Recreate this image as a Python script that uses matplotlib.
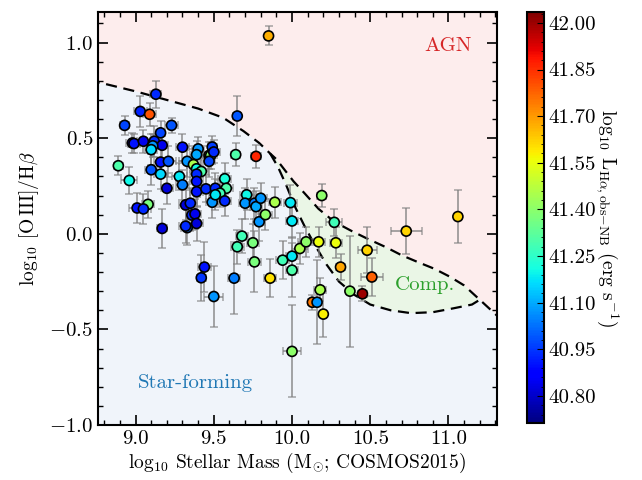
import numpy as np
import matplotlib
matplotlib.use("Agg")
import matplotlib.pyplot as plt
from matplotlib.ticker import MultipleLocator, FormatStrFormatter

plt.rcParams['font.family'] = 'serif'
plt.rcParams['font.serif'] = ['cmr10']
plt.rcParams['mathtext.fontset'] = 'cm'
plt.rcParams['axes.formatter.use_mathtext'] = True

# stellar mass, [OIII]/Hb and Halpha luminosity of each source
mass = [9.13, 9.03, 9.09, 8.93, 9.23, 9.16, 8.98, 8.99, 9.05, 9.12,
        9.17, 9.11, 9.10, 9.30, 9.40, 9.49, 9.39, 9.47, 9.48, 9.50,
        8.89, 9.16, 9.21, 9.10, 9.16, 8.96, 9.33, 9.37, 9.39, 9.42,
        9.39, 9.28, 9.30, 9.39, 9.20, 9.39, 9.45, 9.51, 9.08, 9.01,
        9.05, 9.32, 9.35, 9.49, 9.57, 9.58, 9.54, 9.51, 9.57, 9.71,
        9.70, 9.76, 9.77, 9.80, 9.89, 9.99, 9.64, 9.77, 9.65, 9.47,
        9.85, 9.17, 9.36, 9.38, 9.39, 9.33, 9.32, 9.44, 9.42, 9.50,
        9.63, 9.68, 9.65, 9.75, 9.76, 9.86, 9.94, 10.00, 10.00, 10.00,
        9.79, 9.83, 10.00, 10.05, 10.09, 10.17, 10.19, 10.27, 10.28, 10.48,
        10.31, 10.51, 10.73, 11.06, 10.18, 10.13, 10.16, 10.20, 10.37, 10.45]
mass_err = [0.035, 0.04, 0.04, 0.03, 0.04, 0.03, 0.04, 0.04, 0.04, 0.05,
            0.04, 0.04, 0.04, 0.04, 0.04, 0.03, 0.04, 0.04, 0.04, 0.04,
            0.03, 0.04, 0.05, 0.04, 0.04, 0.05, 0.05, 0.04, 0.04, 0.04,
            0.04, 0.05, 0.04, 0.04, 0.04, 0.04, 0.04, 0.04, 0.04, 0.05,
            0.05, 0.04, 0.04, 0.04, 0.04, 0.04, 0.04, 0.04, 0.04, 0.04,
            0.04, 0.04, 0.04, 0.04, 0.04, 0.04, 0.03, 0.03, 0.025, 0.04,
            0.02, 0.03, 0.04, 0.04, 0.04, 0.04, 0.04, 0.04, 0.03, 0.06,
            0.04, 0.04, 0.04, 0.04, 0.04, 0.04, 0.04, 0.04, 0.04, 0.06,
            0.04, 0.04, 0.04, 0.05, 0.05, 0.04, 0.03, 0.05, 0.04, 0.06,
            0.03, 0.07, 0.10, 0.02, 0.04, 0.03, 0.03, 0.02, 0.02, 0.03]
o3hb = [0.73, 0.64, 0.625, 0.567, 0.567, 0.528, 0.475, 0.472, 0.484, 0.484,
        0.463, 0.46, 0.44, 0.453, 0.444, 0.454, 0.414, 0.41, 0.41, 0.428,
        0.356, 0.375, 0.379, 0.335, 0.312, 0.279, 0.379, 0.362, 0.34, 0.326,
        0.312, 0.30, 0.256, 0.274, 0.238, 0.22, 0.235, 0.238, 0.154, 0.135,
        0.13, 0.151, 0.16, 0.165, 0.288, 0.238, 0.212, 0.204, 0.172, 0.204,
        0.16, 0.16, 0.142, 0.186, 0.165, 0.163, 0.414, 0.405, 0.616, 0.379,
        1.035, 0.028, 0.098, 0.104, 0.054, 0.032, 0.04, -0.174, -0.23, -0.328,
        -0.232, -0.012, -0.068, -0.047, -0.147, -0.232, -0.138, -0.117, -0.19, -0.615,
        0.063, 0.10, 0.067, -0.077, -0.042, -0.042, 0.20, 0.06, -0.047, -0.086,
        -0.174, -0.226, 0.014, 0.09, -0.293, -0.358, -0.358, -0.42, -0.30, -0.314]
o3hb_err = [0.07, 0.08, 0.06, 0.05, 0.04, 0.06, 0.05, 0.05, 0.06, 0.08,
            0.07, 0.06, 0.08, 0.07, 0.06, 0.06, 0.07, 0.07, 0.07, 0.06,
            0.05, 0.08, 0.08, 0.08, 0.08, 0.07, 0.08, 0.08, 0.07, 0.08,
            0.08, 0.07, 0.08, 0.08, 0.08, 0.08, 0.07, 0.08, 0.07, 0.08,
            0.08, 0.08, 0.08, 0.08, 0.08, 0.08, 0.07, 0.08, 0.08, 0.08,
            0.08, 0.08, 0.08, 0.08, 0.08, 0.09, 0.06, 0.06, 0.105, 0.08,
            0.05, 0.10, 0.08, 0.08, 0.09, 0.09, 0.09, 0.13, 0.12, 0.16,
            0.19, 0.09, 0.09, 0.10, 0.16, 0.10, 0.10, 0.10, 0.14, 0.24,
            0.10, 0.08, 0.09, 0.08, 0.08, 0.08, 0.06, 0.07, 0.08, 0.12,
            0.07, 0.10, 0.12, 0.14, 0.06, 0.04, 0.22, 0.12, 0.29, 0.04]
lum_ha = [40.93, 40.92, 41.80, 40.97, 40.99, 40.97, 40.82, 40.90, 40.84, 40.93,
          40.84, 41.07, 41.16, 40.90, 41.07, 40.96, 41.10, 41.60, 41.40, 40.93,
          41.30, 40.90, 40.99, 40.99, 41.16, 41.20, 41.07, 41.45, 41.20, 41.30,
          40.93, 41.18, 41.04, 40.90, 40.82, 40.90, 40.93, 40.93, 41.37, 40.90,
          40.93, 40.82, 40.93, 41.07, 41.22, 41.30, 41.28, 41.18, 40.93, 41.20,
          41.07, 41.04, 41.10, 41.07, 41.45, 41.18, 41.30, 41.86, 40.99, 40.97,
          41.67, 40.82, 40.93, 40.84, 40.82, 41.02, 40.93, 40.90, 40.95, 41.07,
          41.04, 41.28, 41.28, 41.37, 41.37, 41.60, 41.28, 41.18, 41.30, 41.40,
          41.07, 41.40, 41.18, 41.45, 41.40, 41.55, 41.40, 41.28, 41.55, 41.62,
          41.68, 41.78, 41.62, 41.62, 41.45, 41.75, 41.07, 41.58, 41.40, 42.00]

# MEx demarcation lines
upper_x = [8.70, 8.80, 9.00, 9.20, 9.40, 9.56, 9.69, 9.79, 9.86, 9.90, 10.01,
           10.08, 10.17, 10.27, 10.38, 10.48, 10.60, 10.70, 10.81, 10.91,
           11.01, 11.10, 11.20, 11.31, 11.40]
upper_y = [0.80, 0.785, 0.745, 0.70, 0.655, 0.607, 0.537, 0.475, 0.42, 0.39, 0.274,
           0.212, 0.13, 0.063, 0.015, -0.025, -0.07, -0.112, -0.15, -0.183,
           -0.225, -0.27, -0.345, -0.428, -0.50]
lower_x = [9.86, 9.91, 9.96, 10.02, 10.08, 10.14, 10.22, 10.30, 10.40, 10.50,
           10.63, 10.76, 10.90, 11.03, 11.15, 11.20]
lower_y = [0.42, 0.35, 0.26, 0.14, 0.04, -0.05, -0.16, -0.25, -0.32, -0.37,
           -0.40, -0.415, -0.41, -0.39, -0.37, -0.345]

xlim = (8.76, 11.31)
ylim = (-1.0, 1.16)

fig = plt.figure(figsize=(6.42, 4.8), dpi=100)
ax = fig.add_axes([98 / 642, 55 / 480, 399 / 642, 413 / 480])
cax = fig.add_axes([527 / 642, 57 / 480, 17 / 642, 411 / 480])

ux, uy = np.array(upper_x), np.array(upper_y)
lx, ly = np.array(lower_x), np.array(lower_y)

# shaded regions
ax.fill(np.r_[ux, ux[-1], ux[0]], np.r_[uy, 2, 2], color='#fdeded', lw=0, zorder=0)
left = ux < lower_x[0]
right = ux > lower_x[-1]
sfx = np.r_[ux[left], lx, ux[right]]
sfy = np.r_[uy[left], ly, uy[right]]
ax.fill(np.r_[sfx, sfx[-1], sfx[0]], np.r_[sfy, -2, -2], color='#f0f4fa', lw=0, zorder=0)
mid = (ux >= lower_x[0]) & (ux <= lower_x[-1])
ax.fill(np.r_[lower_x[0], ux[mid], lower_x[-1], lx[::-1]],
        np.r_[lower_y[0], uy[mid], lower_y[-1], ly[::-1]],
        color='#eaf6e6', lw=0, zorder=0)

ax.plot(ux, uy, 'k--', lw=1.6, dashes=(5, 3), zorder=1)
ax.plot(lx, ly, 'k--', lw=1.6, dashes=(5, 3), zorder=1)

ax.errorbar(mass, o3hb, xerr=mass_err, yerr=o3hb_err, fmt='none', ecolor='grey',
            alpha=0.7, elinewidth=1.4, capsize=3, capthick=1.1, zorder=2)
sc = ax.scatter(mass, o3hb, c=lum_ha, cmap='jet', vmin=40.713, vmax=42.035, s=52,
                edgecolors='k', linewidths=1.2, zorder=3)

ax.text(11.0, 0.98, 'AGN', color='#d62728', fontsize=15, ha='center', va='center')
ax.text(10.85, -0.27, 'Comp.', color='#2ca02c', fontsize=15, ha='center', va='center')
ax.text(9.38, -0.78, 'Star-forming', color='#1f77b4', fontsize=15, ha='center', va='center')

ax.set_xlim(xlim)
ax.set_ylim(ylim)
ax.xaxis.set_major_locator(MultipleLocator(0.5))
ax.xaxis.set_minor_locator(MultipleLocator(0.1))
ax.yaxis.set_major_locator(MultipleLocator(0.5))
ax.yaxis.set_minor_locator(MultipleLocator(0.1))
ax.xaxis.set_major_formatter(FormatStrFormatter('%.1f'))
ax.yaxis.set_major_formatter(FormatStrFormatter('$%.1f$'))
ax.tick_params(which='both', direction='in', top=True, right=True, labelsize=15)
ax.tick_params(which='major', length=7, width=1.2)
ax.tick_params(which='minor', length=3.5, width=1)
for s in ax.spines.values():
    s.set_linewidth(1.5)

ax.set_xlabel(r'log$_{10}$ Stellar Mass (M$_{\odot}$; COSMOS2015)', fontsize=14, labelpad=2)
ax.set_ylabel(r'log$_{10}$ [O$\,$III]/H$\beta$', fontsize=14, labelpad=6)

cb = fig.colorbar(sc, cax=cax)
cb.set_ticks(np.arange(40.80, 42.01, 0.15))
cb.ax.yaxis.set_major_formatter(FormatStrFormatter('%.2f'))
cb.ax.yaxis.set_minor_locator(MultipleLocator(0.03))
cb.ax.tick_params(which='both', direction='in', labelsize=15)
cb.ax.tick_params(which='major', length=5)
cb.ax.tick_params(which='minor', length=2.5)
cb.outline.set_linewidth(1.5)
cb.set_label(r'log$_{10}$ L$_{\mathrm{H}\alpha,\mathrm{obs{-}NB}}$ (erg s$^{-1}$)',
             rotation=270, fontsize=14, labelpad=18)

fig.savefig('out.png', dpi=100)
